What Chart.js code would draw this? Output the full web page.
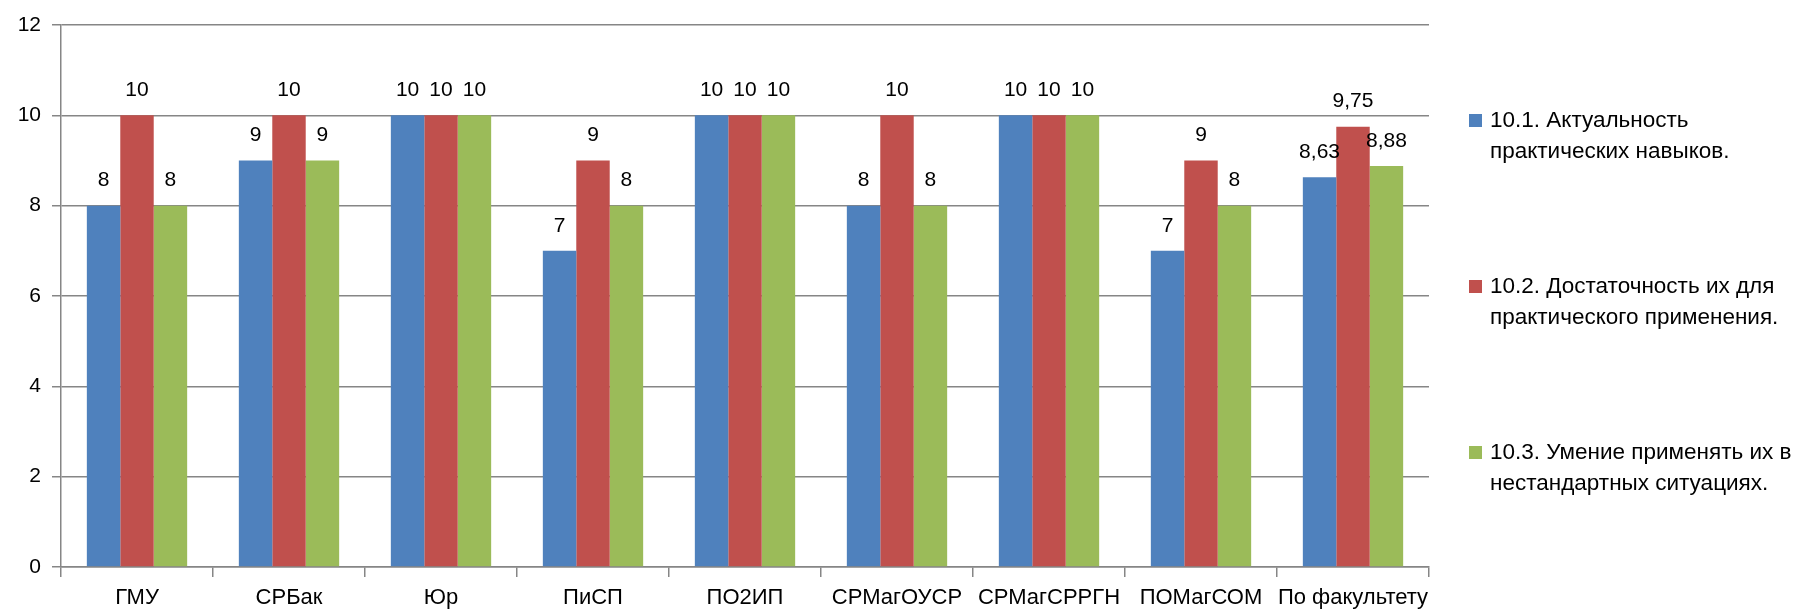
<!DOCTYPE html>
<html>
<head>
<meta charset="utf-8">
<script src="https://cdn.jsdelivr.net/npm/chart.js@4.4.1/dist/chart.umd.min.js"></script>
<style>
  html, body { margin: 0; padding: 0; background: #fff; }
  #wrap { width: 1793px; height: 611px; position: relative; }
</style>
</head>
<body>
<div id="wrap"><canvas id="chart" width="1793" height="611"></canvas></div>
<script>
const categories = ['ГМУ', 'СРБак', 'Юр', 'ПиСП', 'ПО2ИП', 'СРМагОУСР', 'СРМагСРРГН', 'ПОМагСОМ', 'По факультету'];
const seriesNames = [
    ['10.1. Актуальность', 'практических навыков.'],
    ['10.2. Достаточность их для', 'практического применения.'],
    ['10.3. Умение применять их в', 'нестандартных ситуациях.']
];
const actuality = [8, 9, 10, 7, 10, 8, 10, 7, 8.63];
const sufficiency = [10, 10, 10, 9, 10, 10, 10, 9, 9.75];
const application = [8, 9, 10, 8, 10, 8, 10, 8, 8.88];
const yMin = 0, yMax = 12, yStep = 2;

const colors = ['#4F81BD', '#C0504D', '#9BBB59'];
const FONT = 'Liberation Sans';
const gridColor = '#868686';

// value labels above each bar, with comma decimals
const valueLabels = {
    id: 'valueLabels',
    afterDatasetsDraw(chart) {
        const ctx = chart.ctx;
        ctx.save();
        ctx.font = '21px "' + FONT + '"';
        ctx.fillStyle = '#000';
        ctx.textAlign = 'center';
        ctx.textBaseline = 'middle';
        chart.data.datasets.forEach((ds, i) => {
            chart.getDatasetMeta(i).data.forEach((bar, j) => {
                const txt = String(ds.data[j]).replace('.', ',');
                ctx.fillText(txt, bar.x, bar.y - 25);
            });
        });
        ctx.restore();
    }
};

// legend on the right, two lines per item
const sideLegend = {
    id: 'sideLegend',
    afterDraw(chart) {
        const ctx = chart.ctx;
        ctx.save();
        ctx.font = '22.5px "' + FONT + '"';
        ctx.textBaseline = 'middle';
        ctx.textAlign = 'left';
        chart.data.datasets.forEach((ds, i) => {
            const y0 = 121 + i * 166;
            ctx.fillStyle = ds.backgroundColor;
            ctx.fillRect(1469, y0 - 7, 13, 13);
            ctx.fillStyle = '#000';
            seriesNames[i].forEach((line, k) => {
                ctx.fillText(line, 1490, y0 + k * 31);
            });
        });
        ctx.restore();
    }
};

const ctx = document.getElementById('chart').getContext('2d');
const chart = new Chart(ctx, {
    type: 'bar',
    data: {
        labels: categories,
        datasets: [
            { label: seriesNames[0].join(' '), data: actuality, backgroundColor: colors[0] },
            { label: seriesNames[1].join(' '), data: sufficiency, backgroundColor: colors[1] },
            { label: seriesNames[2].join(' '), data: application, backgroundColor: colors[2] }
        ]
    },
    options: {
        responsive: false,
        animation: false,
        events: [],
        layout: { padding: { left: 0, right: 364, top: 25, bottom: 0 } },
        datasets: { bar: { categoryPercentage: 0.66, barPercentage: 1.0 } },
        plugins: {
            legend: { display: false },
            tooltip: { enabled: false }
        },
        scales: {
            x: {
                grid: { display: true, drawOnChartArea: false, offset: true, tickLength: 10, color: gridColor, lineWidth: 1.5 },
                border: { color: gridColor, width: 1.5 },
                ticks: { color: '#000', font: { family: FONT, size: 22 }, padding: 8, maxRotation: 0, autoSkip: false },
                afterFit(scale) { scale.height = 44; }
            },
            y: {
                min: yMin,
                max: yMax,
                grid: { color: gridColor, lineWidth: 1.5, tickLength: 9 },
                border: { color: gridColor, width: 1.5 },
                ticks: { stepSize: yStep, color: '#000', font: { family: FONT, size: 21 }, padding: 11 },
                afterFit(scale) { scale.width = 61; }
            }
        }
    },
    plugins: [valueLabels, sideLegend]
});
</script>
</body>
</html>
